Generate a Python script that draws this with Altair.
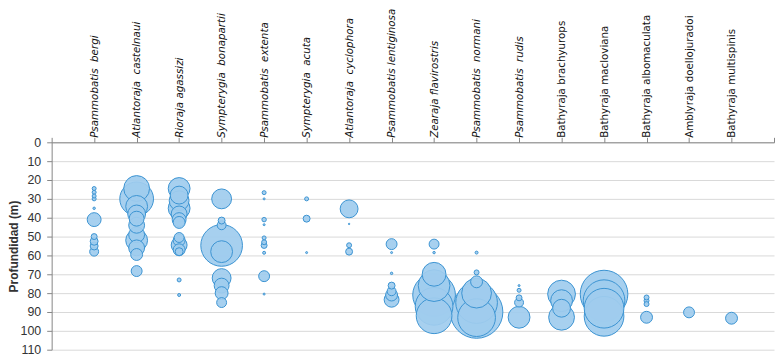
import json
import altair as alt
import pandas as pd

# Species (x categories, in order)
especies = [
    "Psammobatis\u00a0 bergi",
    "Atlantoraja\u00a0 castelnaui",
    "Rioraja agassizi",
    "Sympterygia\u00a0 bonapartii",
    "Psammobatis\u00a0 extenta",
    "Sympterygia\u00a0 acuta",
    "Atlantoraja\u00a0 cyclophora",
    "Psammobatis lentiginosa",
    "Zearaja flavirostris",
    "Psammobatis\u00a0 normani",
    "Psammobatis\u00a0 rudis",
    "Bathyraja brachyurops",
    "Bathyraja macloviana",
    "Bathyraja albomaculata",
    "Amblyraja doellojuradoi",
    "Bathyraja multispinis",
]
n_italicas = 11  # first 11 labels are italic

# Depth (m) of each bubble, per species
profundidades = [
    [24.5, 26.5, 28.5, 30, 35, 41, 50, 52.5, 55, 58],
    [24.5, 30, 34, 38, 40.5, 44, 49, 52, 56, 59.5, 68.3],
    [24.5, 28, 31, 35, 38, 41, 42.5, 50.5, 52, 54.5, 57, 58, 73, 81],
    [30, 41.5, 44, 54.7, 58, 72, 76, 80, 85],
    [26.7, 30, 41, 43.7, 50.7, 53, 54.7, 58.6, 71, 80.5],
    [30, 40.5, 58.5],
    [35.3, 43.3, 54.6, 58],
    [54, 58.5, 69.5, 76, 79, 81, 83.5],
    [54, 58.5, 70, 76, 81, 87, 92],
    [58.5, 69, 74, 80, 85, 90, 93],
    [76, 78.5, 82.5, 85, 92.8],
    [80.5, 84, 88, 92.8],
    [80.5, 84, 88, 92.3],
    [82.3, 84, 85.8, 92.8],
    [90.2],
    [93.3],
]

# Relative abundance (bubble value, area-proportional), per species
abundancias = [
    [1.6, 1.6, 1.6, 1.6, 0.6, 19.6, 3.6, 6.4, 6.4, 8.1],
    [67.6, 115.6, 48.4, 32.4, 22.5, 25.6, 25.6, 48.4, 25.6, 14.4, 12.1],
    [48.4, 32.4, 40, 48.4, 25.6, 19.6, 14.4, 10, 14.4, 25.6, 14.4, 6.4, 1.6, 0.9],
    [40, 4.9, 8.1, 176.4, 48.4, 36.1, 22.5, 16.9, 10],
    [1.6, 0.4, 2.0, 0.4, 1.6, 2.5, 3.6, 0.9, 12.1, 0.4],
    [1.6, 4.9, 0.4],
    [32.4, 0.2, 2.5, 4.9],
    [12.1, 0.4, 0.6, 4.9, 8.1, 14.4, 22.5],
    [10, 0.6, 57.6, 102.4, 184.9, 144.4, 129.6],
    [0.9, 2.5, 14.4, 90, 176.4, 280.9, 144.4],
    [0.4, 1.6, 3.6, 8.1, 48.4],
    [78.4, 48.4, 32.4, 67.6],
    [230.4, 176.4, 160, 160],
    [2.5, 2.5, 2.5, 14.4],
    [12.1],
    [14.4],
]

rows = []
for i, (deps, vals) in enumerate(zip(profundidades, abundancias), start=1):
    for d, v in zip(deps, vals):
        rows.append({"x": i, "especie": especies[i - 1], "profundidad": d, "abundancia": v})
df = pd.DataFrame(rows).sort_values("abundancia", ascending=False).reset_index(drop=True)

labels = [""] + especies + [""]
label_expr = json.dumps(labels) + "[datum.value]"

chart = (
    alt.Chart(df)
    .mark_circle(
        color="#a0ccee",
        fillOpacity=0.92,
        stroke="#3b93d2",
        strokeWidth=1,
        strokeOpacity=1,
        opacity=1,
    )
    .encode(
        x=alt.X(
            "x:Q",
            scale=alt.Scale(domain=[0, 17], nice=False, zero=False),
            axis=alt.Axis(
                orient="top",
                values=list(range(0, 18)),
                labelExpr=label_expr,
                labelAngle=-90,
                labelAlign="left",
                labelBaseline="middle",
                labelLimit=400,
                grid=False,
                title=None,
                domainColor="#868686",
                tickColor="#868686",
                tickSize=5,
                labelPadding=0,
                labelFont="DejaVu Sans",
                labelFontSize=10.4,
                labelColor="#111111",
                labelOverlap=False,
                labelFlush=False,
                labelFontStyle={
                    "condition": {"test": f"datum.value <= {n_italicas}", "value": "italic"},
                    "value": "normal",
                },
            ),
        ),
        y=alt.Y(
            "profundidad:Q",
            scale=alt.Scale(domain=[0, 110], reverse=True, nice=False),
            axis=alt.Axis(
                values=list(range(0, 111, 10)),
                title="Profundidad (m)",
                titleFont="Liberation Sans",
                titleFontSize=12,
                titleFontWeight="bold",
                titleColor="#333333",
                titlePadding=0,
                labelFont="Liberation Sans",
                labelFontSize=12.5,
                labelColor="#333333",
                labelPadding=6,
                domainColor="#868686",
                tickColor="#868686",
                tickSize=5,
                gridColor="#d9d9d9",
                gridWidth=1,
            ),
        ),
        size=alt.Size(
            "abundancia:Q",
            scale=alt.Scale(domain=[0, 300], range=[0, 3000]),
            legend=None,
        ),
        order=alt.Order("abundancia:Q", sort="descending"),
    )
    .properties(
        width=728,
        height=209,
        autosize=alt.AutoSizeParams(type="none"),
        padding={"left": 44, "top": 134, "right": 2, "bottom": 6},
    )
    .configure_view(stroke=None)
)

chart.save("out.html", embed_options={"renderer": "svg", "actions": False})
